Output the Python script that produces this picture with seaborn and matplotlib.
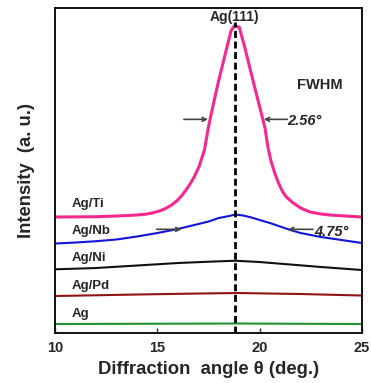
import matplotlib
matplotlib.use("Agg")
import matplotlib.pyplot as plt
import seaborn as sns
import pandas as pd

# ---- data (intensity in arbitrary, offset units) ----
ti_x = [10, 12, 13, 14, 14.5, 14.8, 15.1, 15.4, 15.7, 16.0, 16.2, 16.4, 16.6, 16.8,
        17.05, 17.3, 17.49, 17.62, 17.98, 18.39, 18.6, 18.75, 19.0, 19.28, 19.69,
        20.1, 20.26, 20.4, 20.55, 20.75, 20.92, 21.1, 21.3, 21.64, 22.0, 22.46,
        23.0, 23.43, 24.2, 25]
ti_y = [116, 116.3, 117, 118, 119, 120.3, 122, 124.5, 128, 133, 137.5, 143, 149, 156,
        167, 183, 205, 218, 251, 285, 302, 307, 306, 285, 251,
        218, 205, 186, 172, 159, 150, 142, 136, 130, 125, 121,
        119, 118, 117, 116]

nb_x = [10, 11, 12, 13, 14, 15, 16, 17, 17.5, 18, 18.5, 18.8, 19.2, 19.6, 20,
        20.5, 21, 21.5, 22, 22.5, 23, 24, 25]
nb_y = [89.5, 90.5, 91.8, 93.5, 96.5, 100, 104, 109, 111.5, 115, 117, 118.5, 117.5,
        115.5, 113, 110, 106.5, 103, 100, 98, 96, 93, 90]

ni_x = [10, 12, 14, 16, 17.5, 18.8, 20, 21.5, 23, 25]
ni_y = [63.7, 65, 67.5, 70, 71.3, 72.3, 71, 68.5, 66, 63]

pd_x = [10, 14, 17, 19, 22, 25]
pd_y = [37, 38.5, 39.5, 40, 39, 37.5]

ag_x = [10, 15, 19, 25]
ag_y = [9, 9.3, 9.5, 9]

labels = ["Ag/Ti", "Ag/Nb", "Ag/Ni", "Ag/Pd", "Ag"]
label_y = [129, 102.5, 74.7, 47, 19]
peak_pos = 18.8
fwhm_ti = "2.56°"
fwhm_nb = "4.75°"

x_ticks = [10, 15, 20, 25]

# ---- plotting ----
sns.set_style("ticks")
plt.rcParams['font.family'] = ['Liberation Sans', 'DejaVu Sans']
plt.rcParams['font.weight'] = 'bold'

fig = plt.figure(figsize=(3.71, 3.83), dpi=100)
ax = fig.add_axes([0.148, 0.1305, 0.828, 0.8485])

series = [
    (ti_x, ti_y, "#F5288F", 2.2),
    (nb_x, nb_y, "#1414D8", 1.5),
    (ni_x, ni_y, "#111111", 1.5),
    (pd_x, pd_y, "#8E1414", 1.5),
    (ag_x, ag_y, "#1F9330", 1.5),
]
for xs, ys, col, lw in series:
    df = pd.DataFrame({"x": xs, "y": ys})
    sns.lineplot(data=df, x="x", y="y", color=col, lw=lw, ax=ax,
                 errorbar=None, sort=True)

ax.plot([peak_pos, peak_pos], [0, 311], color="black", lw=2.0,
        linestyle=(0, (2.5, 1.3)))

ax.set_xlim(10, 25)
ax.set_ylim(0, 325)
ax.set_xticks(x_ticks)
ax.set_xticklabels([str(t) for t in x_ticks], fontsize=10.5, fontweight='bold')
ax.set_yticks([])
ax.tick_params(axis='x', direction='in', length=3.5, width=1, pad=6)
for s in ax.spines.values():
    s.set_linewidth(1.4)
    s.set_color("#111111")

ax.set_xlabel("Diffraction  angle θ (deg.)", fontsize=13.3, fontweight='bold', labelpad=4)
ax.set_ylabel("Intensity  (a. u.)", fontsize=13.3, fontweight='bold', labelpad=14)

for lab, yv in zip(labels, label_y):
    ax.text(10.8, yv, lab, fontsize=9.5, fontweight='bold', va='center', ha='left')

ax.text(18.75, 316, "Ag(111)", fontsize=10, fontweight='bold', ha='center', va='center')
ax.text(22.95, 248, "FWHM", fontsize=10.5, fontweight='bold', ha='center', va='center')

arrow_kw = dict(arrowstyle="->", color="#444444", lw=1.2, mutation_scale=7,
                shrinkA=0, shrinkB=0)
ax.annotate("", xy=(17.47, 213.7), xytext=(16.3, 213.7), arrowprops=arrow_kw)
ax.annotate("", xy=(20.2, 213.7), xytext=(21.35, 213.7), arrowprops=arrow_kw)
ax.text(21.35, 212, fwhm_ti, fontsize=10.5, fontweight='bold', style='italic',
        ha='left', va='center')

ax.annotate("", xy=(16.18, 103.7), xytext=(14.97, 103.7), arrowprops=arrow_kw)
ax.annotate("", xy=(21.38, 103.7), xytext=(22.6, 103.7), arrowprops=arrow_kw)
ax.text(22.65, 101.5, fwhm_nb, fontsize=10.5, fontweight='bold', style='italic',
        ha='left', va='center')

fig.savefig("out.png", dpi=100)
